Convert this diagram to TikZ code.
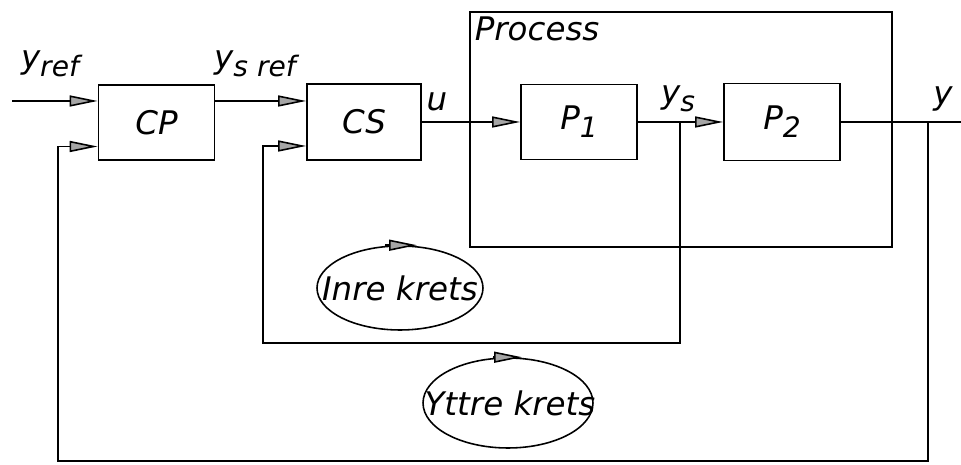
\documentclass[tikz,border=0pt]{standalone}
\usepackage{fontspec}
\setmainfont{DejaVu Sans}
\usetikzlibrary{arrows.meta,shapes.geometric}
\tikzset{
  blocco/.style={draw,line width=1pt,minimum width=2.32cm,minimum height=1.5cm,inner sep=0pt},
  freccia/.style={-{Triangle[length=0.56cm,width=0.22cm,fill=gray!70]}},
  linea/.style={line width=0.9pt},
  anello/.style={draw,ellipse,line width=0.9pt,inner sep=0pt},
}
\newcommand{\idx}[1]{\raisebox{-0.45ex}{\fontsize{16}{19}\selectfont #1}}
\begin{document}
\begin{tikzpicture}[x=0.02cm,y=-0.02cm,font=\itshape\fontsize{18.5}{22}\selectfont]
        \useasboundingbox (0,0) rectangle (961,465);

        % processo
        \node[draw,line width=1pt,minimum width=8.44cm,minimum height=4.7cm] (proc) at (681,129.5) {};
        \node[anchor=north west,inner sep=3pt] (proclab) at (proc.north west) {Process};

        % blocchi
        \node[blocco] (CP) at (156.5,122.5) {CP};
        \node[blocco,minimum width=2.28cm,minimum height=1.52cm] (CS) at (364,122) {CS};
        \node[blocco] (P1) at (579,122) {P\idx{1}};
        \node[blocco,minimum height=1.54cm] (P2) at (782,122) {P\idx{2}};

        % segnali
        \coordinate (in) at (12,101);
        \coordinate (out) at (961,122);
        \coordinate (ysb) at (680,122);
        \coordinate (yb) at (928,122);
        \coordinate (ib) at (263,343);
        \coordinate (ob) at (58,461);

        \draw[linea,freccia] (in) -- (in -| CP.west);
        \draw[linea,freccia] (in -| CP.east) -- (in -| CS.west);
        \draw[linea,freccia] (CS.east) -- (P1.west);
        \draw[linea,freccia] (P1.east) -- (P2.west);
        \draw[linea] (P2.east) -- (out);

        % anelli di retroazione
        \draw[linea,freccia] (ysb) |- (ib) |- ([yshift=-0.48cm]CS.west);
        \draw[linea,freccia] (yb) |- (ob) |- ([yshift=-0.48cm]CP.west);

        % etichette
        \node (yref) at (50,64) {y\idx{ref}};
        \node (ysref) at (255,64) {y\idx{s ref}};
        \node (u) at (437,102) {u};
        \node (ysl) at (678,99) {y\idx{s}};
        \node (yl) at (943,99) {y};

        % krets
        \node[anello,minimum width=3.32cm,minimum height=1.68cm] (inre) at (400,288) {};
        \node (inretxt) at (inre) {Inre krets};
        \draw[linea,freccia] ([xshift=-0.3cm]inre.north) -- ([xshift=0.34cm]inre.north);
        \node[anello,minimum width=3.4cm,minimum height=1.8cm] (yttre) at (508,403) {};
        \node (yttretxt) at ([xshift=0.04cm]yttre.center) {Yttre krets};
        \draw[linea,freccia] ([xshift=-0.3cm]yttre.north) -- ([xshift=0.28cm]yttre.north);
\end{tikzpicture}
\end{document}
